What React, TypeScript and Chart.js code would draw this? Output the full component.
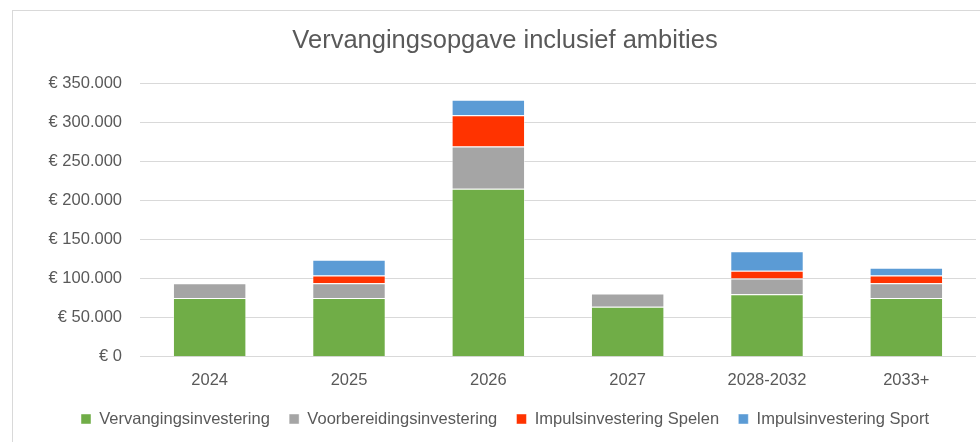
import React, { useEffect, useRef } from "react";
import { Chart, registerables } from "chart.js";

Chart.register(...registerables);

const categories = ["2024", "2025", "2026", "2027", "2028-2032", "2033+"];
const vervanging = [75000, 75000, 215000, 64000, 80000, 75000];
const voorbereiding = [19000, 19000, 54000, 17000, 20000, 19000];
const spelen = [0, 10000, 40000, 0, 10000, 10000];
const sport = [0, 20000, 20000, 0, 25000, 10000];
const seriesNames = [
  "Vervangingsinvestering",
  "Voorbereidingsinvestering",
  "Impulsinvestering Spelen",
  "Impulsinvestering Sport",
];
const titleText = "Vervangingsopgave inclusief ambities";

const FONT = "'Liberation Sans', Arial, sans-serif";
const TEXT = "#595959";
const GRID = "#D9D9D9";

function fmt(v: number) {
  const s = Math.round(v).toString().replace(/\B(?=(\d{3})+(?!\d))/g, ".");
  return "€ " + s;
}

export default function App() {
  const ref = useRef<HTMLCanvasElement | null>(null);
  useEffect(() => {
    if (!ref.current) return;
    const colors = ["#70AD47", "#A5A5A5", "#FF3300", "#5B9BD5"];
    const values = [vervanging, voorbereiding, spelen, sport];
    const chart = new Chart(ref.current, {
      type: "bar",
      data: {
        labels: categories,
        datasets: values.map((d, i) => ({
          label: seriesNames[i],
          data: d,
          backgroundColor: colors[i],
          borderColor: "rgba(255,255,255,0.45)",
          borderWidth: 1,
          barPercentage: 0.527,
          categoryPercentage: 1,
        })),
      },
      options: {
        responsive: false,
        animation: false,
        layout: { padding: { left: 34, right: 24, top: 0, bottom: 4.75 } },
        plugins: {
          title: {
            display: true,
            text: titleText,
            color: TEXT,
            font: { family: FONT, size: 25.5, weight: "normal" },
            padding: { top: 25.9, bottom: 26.8 },
          },
          legend: {
            position: "bottom",
            labels: {
              color: TEXT,
              font: { family: FONT, size: 16.5 },
              boxWidth: 10,
              boxHeight: 10,
              padding: 19.25,
            },
          },
          tooltip: { enabled: false },
        },
        scales: {
          x: {
            stacked: true,
            grid: { display: false, drawTicks: false },
            border: { display: false },
            ticks: {
              color: TEXT,
              font: { family: FONT, size: 16.5 },
              padding: 14.3,
              maxRotation: 0,
              autoSkip: false,
            },
            afterFit: (s: any) => {
              s.height = 34.8;
            },
          },
          y: {
            stacked: true,
            min: 0,
            max: 350000,
            grid: { color: GRID, lineWidth: 1, drawTicks: false },
            border: { display: false },
            ticks: {
              stepSize: 50000,
              color: TEXT,
              font: { family: FONT, size: 16.5 },
              padding: 18,
              callback: (v: any) => fmt(Number(v)),
            },
            afterFit: (s: any) => {
              s.width = 106;
            },
          },
        },
      },
    });
    return () => chart.destroy();
  }, []);
  return (
    <div
      style={{
        position: "absolute",
        left: 0,
        top: 0,
        width: 980,
        height: 442,
        overflow: "hidden",
        background: "#fff",
      }}
    >
      <div
        style={{
          position: "absolute",
          left: 12,
          top: 10,
          width: 982,
          height: 460,
          border: "1px solid #D9D9D9",
          boxSizing: "border-box",
        }}
      />
      <canvas
        ref={ref}
        width={1000}
        height={442}
        style={{ position: "absolute", left: 0, top: 0, width: 1000, height: 442 }}
      />
    </div>
  );
}
